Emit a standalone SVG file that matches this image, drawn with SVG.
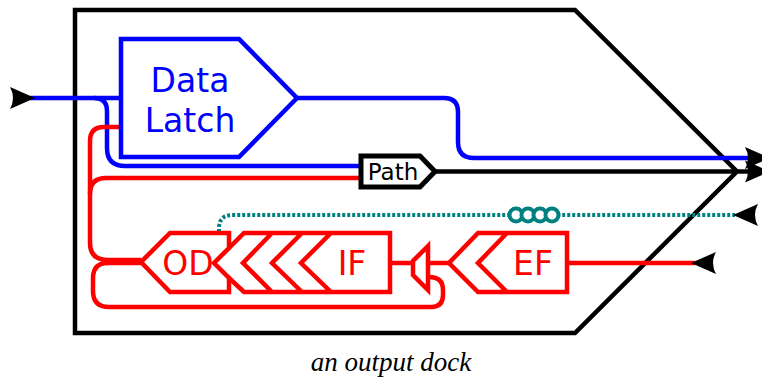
<svg xmlns="http://www.w3.org/2000/svg" width="762" height="377" viewBox="0 0 762 377">
<style>
.l{fill:none;stroke-linejoin:miter}
.b{stroke:#00f;stroke-width:4.500}
.r{stroke:#f00;stroke-width:4.500}
.k{stroke:#000;stroke-width:4.500}
.t{font-family:"DejaVu Sans",sans-serif;text-anchor:middle}
</style>
<defs>
<path id="ah" d="M0 0L-25 -11Q-19 0 -25 11Z" fill="#000"/>
</defs>
<g id="dock"><path class="l k" d="M75 10H575L737 171.500L575 333H75Z"/></g>
<g id="connectors">
<path class="l b" d="M30 98H121"/>
<path class="l b" d="M94 98Q107 98 107 111V148Q107 166 125 166H361"/>
<path class="l b" d="M297 98H444Q458 98 458 112V142Q458 158 474 158H750"/>
<path class="l r" d="M121 127H104Q90 127 90 141V243Q90 260 108 260H141"/>
<path class="l r" d="M361 178H106Q90 178 90 194"/>
<path class="l r" d="M141 263H108Q93 263 93 278V291Q93 307 109 307H431Q443 307 443 295V290Q443 277 429 277"/>
<path class="l k" d="M435 171.500H750"/>
<path class="l" stroke="#008080" stroke-width="4" stroke-dasharray="3 2" d="M219 232V228Q219 215 233 215H735"/>
<path class="l r" d="M391 263H412M428 263H449M567 263H695"/>
<use href="#ah" transform="translate(35 98)"/>
<use href="#ah" transform="translate(770 158)"/>
<use href="#ah" transform="translate(770 171.500)"/>
<use href="#ah" transform="translate(733 215) rotate(180)"/>
<use href="#ah" transform="translate(691 263) rotate(180)"/>
</g>
<g id="data-latch"><path class="l b" d="M121 39H239L297 98L239 157H121Z"/>
<text class="t" x="190" y="92" font-size="33" fill="#00f">Data</text>
<text class="t" x="190" y="132" font-size="33" fill="#00f">Latch</text></g>
<g id="path"><path class="l" stroke="#000" stroke-width="5" d="M361 156H420L435 171.500L420 187H361Z" fill="#fff"/>
<text class="t" x="393" y="180" font-size="23" fill="#000">Path</text></g>
<g id="coil" fill="#fff" stroke="#008080" stroke-width="4"><circle cx="516" cy="215" r="6.500"/><circle cx="528" cy="215" r="6.500"/><circle cx="540" cy="215" r="6.500"/><circle cx="552" cy="215" r="6.500"/></g>
<g id="od"><path class="l r" d="M229 233H170L141 262L170 292H229V278L214 263L229 248Z"/>
<text class="t" x="188" y="275" font-size="33" fill="#f00">OD</text></g>
<g id="if"><path class="l r" d="M229 248L244 233H390V292H244L229 278M272 233L243 263L272 292M302 233L272 263L302 292M331 233L301 263L331 292"/>
<text class="t" x="352" y="275" font-size="33" fill="#f00">IF</text></g>
<g id="gate"><path class="l r" d="M428 246L413 261V275L428 290Z"/></g>
<g id="ef"><path class="l r" d="M567 233H478L449 263L478 292H567ZM507 233L478 263L507 292"/>
<text class="t" x="533" y="275" font-size="33" fill="#f00">EF</text></g>
<text x="391" y="371" font-family="'Liberation Serif',serif" font-style="italic" font-size="27" text-anchor="middle">an output dock</text>
</svg>
